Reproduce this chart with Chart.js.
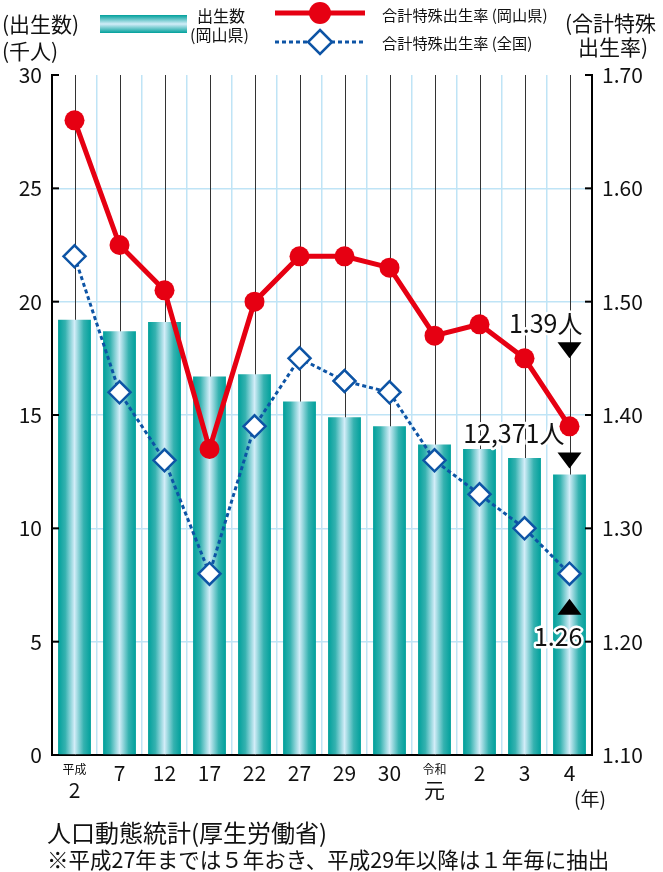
<!DOCTYPE html>
<html>
<head>
<meta charset="utf-8">
<script src="https://cdn.jsdelivr.net/npm/chart.js@4"></script>
<style>
  html, body { margin: 0; padding: 0; background: #fff; }
  #wrap { width: 663px; height: 872px; position: relative; }
</style>
</head>
<body>
<div id="wrap"><canvas id="birthChart"></canvas></div>
<script>
const years = [['平成', '2'], '7', '12', '17', '22', '27', '29', '30', ['令和', '元'], '2', '3', '4'];
const births = [19.2, 18.7, 19.1, 16.7, 16.8, 15.6, 14.9, 14.5, 13.7, 13.5, 13.1, 12.371]; // 千人
const rateOkayama = [1.66, 1.55, 1.51, 1.37, 1.50, 1.54, 1.54, 1.53, 1.47, 1.48, 1.45, 1.39];
const rateJapan = [1.54, 1.42, 1.36, 1.26, 1.39, 1.45, 1.43, 1.42, 1.36, 1.33, 1.30, 1.26];
const birthTicks = [0, 5, 10, 15, 20, 25, 30];
const rateTicks = ['1.10', '1.20', '1.30', '1.40', '1.50', '1.60', '1.70'];

const FONT = '"Noto Sans CJK JP", "Noto Sans", sans-serif';
const RED = '#e60012';
const BLUE = '#0d54a5';
const GRID = '#bfe4f6';

function barGradient(ctx, x0, x1) {
    const g = ctx.createLinearGradient(x0, 0, x1, 0);
    g.addColorStop(0, '#00a09b');
    g.addColorStop(0.22, '#35b2b0');
    g.addColorStop(0.5, '#d2edf8');
    g.addColorStop(0.78, '#35b2b0');
    g.addColorStop(1, '#00a09b');
    return g;
}

function haloText(ctx, text, x, y) {
    ctx.lineJoin = 'round';
    ctx.strokeStyle = '#fff';
    ctx.lineWidth = 5;
    ctx.strokeText(text, x, y);
    ctx.fillStyle = '#111';
    ctx.fillText(text, x, y);
}

function triangle(ctx, cx, y, down) {
    ctx.beginPath();
    if (down) {
        ctx.moveTo(cx - 12, y);
        ctx.lineTo(cx + 12, y);
        ctx.lineTo(cx, y + 16);
    } else {
        ctx.moveTo(cx - 12, y + 16);
        ctx.lineTo(cx + 12, y + 16);
        ctx.lineTo(cx, y);
    }
    ctx.closePath();
    ctx.fillStyle = '#000';
    ctx.fill();
}

const decorations = {
    id: 'decorations',
    beforeDatasetsDraw(chart) {
        const { ctx, chartArea, scales } = chart;
        ctx.save();
        ctx.strokeStyle = '#333';
        ctx.lineWidth = 1;
        years.forEach((_, i) => {
            const x = Math.round(scales.x.getPixelForValue(i)) + 0.5;
            ctx.beginPath();
            ctx.moveTo(x, chartArea.top);
            ctx.lineTo(x, chartArea.bottom);
            ctx.stroke();
        });
        ctx.restore();
    },
    afterDraw(chart) {
        const { ctx, chartArea, scales } = chart;
        ctx.save();

        // inward ticks
        ctx.strokeStyle = '#000';
        ctx.lineWidth = 2;
        birthTicks.forEach(v => {
            const y = scales.y.getPixelForValue(v);
            ctx.beginPath();
            ctx.moveTo(chartArea.left, y);
            ctx.lineTo(chartArea.left + 7, y);
            ctx.stroke();
        });
        rateTicks.forEach(v => {
            const y = scales.y1.getPixelForValue(Number(v));
            ctx.beginPath();
            ctx.moveTo(chartArea.right, y);
            ctx.lineTo(chartArea.right - 7, y);
            ctx.stroke();
        });

        // x labels
        ctx.fillStyle = '#111';
        ctx.textAlign = 'center';
        ctx.textBaseline = 'middle';
        years.forEach((lab, i) => {
            const x = scales.x.getPixelForValue(i);
            if (Array.isArray(lab)) {
                ctx.font = '12px ' + FONT;
                ctx.fillText(lab[0], x, 769);
                ctx.font = '21px ' + FONT;
                ctx.fillText(lab[1], x, 790);
            } else {
                ctx.font = '21px ' + FONT;
                ctx.fillText(lab, x, 773);
            }
        });
        ctx.font = '19px ' + FONT;
        ctx.fillText('(年)', 590, 799);

        // axis titles
        ctx.textAlign = 'left';
        ctx.font = '21px ' + FONT;
        ctx.fillText('(出生数)', 2, 24);
        ctx.fillText('(千人)', 2, 51);
        ctx.fillText('(合計特殊', 565, 23);
        ctx.fillText('出生率)', 578, 47);

        // legend
        const lg = ctx.createLinearGradient(0, 15, 0, 33);
        lg.addColorStop(0, '#00a09b');
        lg.addColorStop(0.5, '#d2edf8');
        lg.addColorStop(1, '#00a09b');
        ctx.fillStyle = lg;
        ctx.fillRect(100, 15, 87, 18);
        ctx.fillStyle = '#111';
        ctx.font = '16px ' + FONT;
        ctx.fillText('出生数', 197, 16);
        ctx.fillText('(岡山県)', 190, 35);

        ctx.strokeStyle = RED;
        ctx.lineWidth = 5;
        ctx.beginPath();
        ctx.moveTo(275, 13);
        ctx.lineTo(365, 13);
        ctx.stroke();
        ctx.fillStyle = RED;
        ctx.beginPath();
        ctx.arc(320, 13, 11, 0, Math.PI * 2);
        ctx.fill();

        ctx.strokeStyle = BLUE;
        ctx.lineWidth = 3;
        ctx.setLineDash([4, 3]);
        ctx.beginPath();
        ctx.moveTo(275, 42);
        ctx.lineTo(365, 42);
        ctx.stroke();
        ctx.setLineDash([]);
        ctx.fillStyle = '#fff';
        ctx.lineWidth = 2.5;
        ctx.beginPath();
        ctx.moveTo(320, 30);
        ctx.lineTo(332, 42);
        ctx.lineTo(320, 54);
        ctx.lineTo(308, 42);
        ctx.closePath();
        ctx.fill();
        ctx.stroke();

        ctx.fillStyle = '#111';
        ctx.font = '15.2px ' + FONT;
        ctx.fillText('合計特殊出生率 (岡山県)', 382, 15);
        ctx.fillText('合計特殊出生率 (全国)', 382, 43);

        // annotations on last year
        const last = years.length - 1;
        const xl = scales.x.getPixelForValue(last);
        const yRed = scales.y1.getPixelForValue(rateOkayama[last]);
        const yBar = scales.y.getPixelForValue(births[last]);
        const yBlue = scales.y1.getPixelForValue(rateJapan[last]);
        triangle(ctx, xl, yRed - 84, true);
        triangle(ctx, xl, yBar - 22, true);
        triangle(ctx, xl, yBlue + 25, false);
        ctx.font = '25px ' + FONT;
        ctx.textAlign = 'right';
        haloText(ctx, rateOkayama[last].toFixed(2) + '人', xl + 13, yRed - 103);
        haloText(ctx, Math.round(births[last] * 1000).toLocaleString('en-US') + '人', xl - 5, yBar - 41);
        haloText(ctx, rateJapan[last].toFixed(2), xl + 13, yBlue + 63);

        // source
        ctx.textAlign = 'left';
        ctx.fillStyle = '#111';
        ctx.font = '24px ' + FONT;
        ctx.fillText('人口動態統計(厚生労働省)', 47, 833);
        ctx.font = '21.5px ' + FONT;
        ctx.fillText('※平成27年までは５年おき、平成29年以降は１年毎に抽出', 47, 860);
        ctx.restore();
    }
};

new Chart(document.getElementById('birthChart'), {
    type: 'bar',
    data: {
        labels: years,
        datasets: [
            {
                type: 'line',
                label: '合計特殊出生率 (岡山県)',
                data: rateOkayama,
                yAxisID: 'y1',
                borderColor: RED,
                backgroundColor: RED,
                borderWidth: 5,
                pointRadius: 10,
                pointHoverRadius: 10,
                pointBackgroundColor: RED,
                pointBorderWidth: 0,
                tension: 0,
                order: 1
            },
            {
                type: 'line',
                label: '合計特殊出生率 (全国)',
                data: rateJapan,
                yAxisID: 'y1',
                borderColor: BLUE,
                borderWidth: 3,
                borderDash: [4, 3],
                pointStyle: 'rectRot',
                pointRadius: 11,
                pointHoverRadius: 11,
                pointBackgroundColor: '#fff',
                pointBorderColor: BLUE,
                pointBorderWidth: 2.5,
                tension: 0,
                order: 2
            },
            {
                label: '出生数 (岡山県)',
                data: births,
                yAxisID: 'y',
                barPercentage: 0.73,
                categoryPercentage: 1,
                backgroundColor(c) {
                    const chart = c.chart;
                    const xs = chart.scales.x;
                    if (!xs || !chart.chartArea) return '#00a09b';
                    const w = xs.width / years.length * 0.73;
                    const x = xs.getPixelForValue(c.dataIndex);
                    return barGradient(chart.ctx, x - w / 2, x + w / 2);
                },
                borderWidth: 0,
                order: 3
            }
        ]
    },
    options: {
        responsive: true,
        maintainAspectRatio: false,
        animation: false,
        layout: { padding: { top: 75, left: 0, right: 0, bottom: 0 } },
        plugins: {
            legend: { display: false },
            tooltip: { enabled: false }
        },
        scales: {
            x: {
                offset: true,
                grid: { color: GRID, lineWidth: 1.5, drawTicks: false },
                border: { color: '#000', width: 2 },
                ticks: { display: false },
                afterFit(s) { s.height = 117; }
            },
            y: {
                position: 'left',
                min: 0,
                max: 30,
                ticks: {
                    stepSize: 5,
                    padding: 10,
                    color: '#111',
                    font: { family: FONT, size: 21 }
                },
                grid: {
                    drawTicks: false,
                    lineWidth: 1.5,
                    color: c => c.tick.value === 30 ? 'rgba(0,0,0,0)' : GRID
                },
                border: { color: '#000', width: 2 },
                afterFit(s) { s.width = 52; }
            },
            y1: {
                position: 'right',
                min: 1.1,
                max: 1.7,
                ticks: {
                    stepSize: 0.1,
                    padding: 10,
                    color: '#111',
                    font: { family: FONT, size: 21 },
                    callback: v => Number(v).toFixed(2)
                },
                grid: { display: false, drawTicks: false },
                border: { color: '#000', width: 2 },
                afterFit(s) { s.width = 71; }
            }
        }
    },
    plugins: [decorations]
});
</script>
</body>
</html>
